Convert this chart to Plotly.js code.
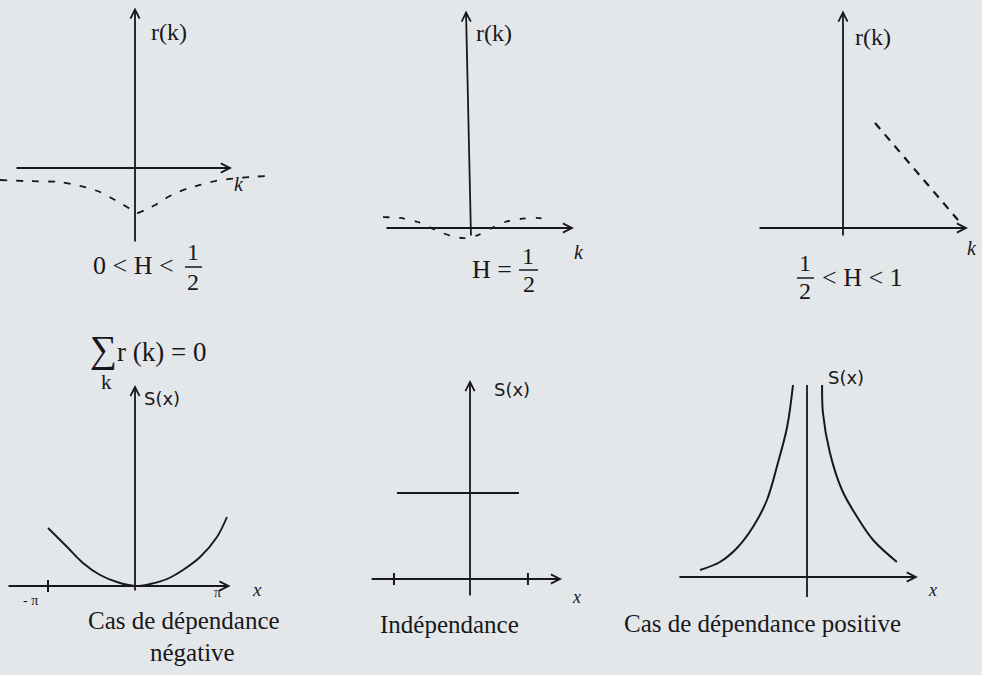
<!DOCTYPE html>
<html>
<head>
<meta charset="utf-8">
<script src="https://cdn.plot.ly/plotly-3.0.1.min.js"></script>
<style>
html,body{margin:0;padding:0;background:#e4e7ea;}
#chart{width:982px;height:675px;}
</style>
</head>
<body>
<div id="chart"></div>
<script>
// ---------- DATA ----------
// r(k), 0 < H < 1/2  (negative correlations)
const kNeg = [-6.75,-5.5,-3.75,-2.5,-1.75,-1,-0.4,0.1,0.5,1.1,1.65,2.4,3.25,4,4.75,5.75,6.65];
const rNeg = [-0.08,-0.087,-0.093,-0.127,-0.16,-0.213,-0.26,-0.3,-0.28,-0.24,-0.193,-0.147,-0.113,-0.087,-0.073,-0.06,-0.053];
// r(k), H = 1/2
const kInd = [-4.25,-3.4,-2.5,-1.4,-0.65,-0.15,0.5,1.2,1.85,2.6,3.45,4.1];
const rInd = [0.073,0.067,0.04,-0.027,-0.06,-0.067,-0.047,0,0.04,0.06,0.067,0.053];
// r(k), 1/2 < H < 1
const kPos = [1.6,3.6,5.75];
const rPos = [0.7,0.387,0.053];
// S(x), negative dependence
const xNeg = [-3.14,-2.45,-1.88,-1.26,-0.65,0,0.54,1.16,1.73,2.35,2.96,3.32];
const sNeg = [2.9,1.95,1.15,0.55,0.2,0,0.1,0.35,0.8,1.45,2.45,3.45];
// S(x), independence
const xInd = [-3.43,2.3];
const sInd = [4.3,4.3];
// S(x), positive dependence (two branches)
const xPosL = [-3.82,-3.11,-2.5,-1.93,-1.43,-1.04,-0.71,-0.5];
const sPosL = [0.35,0.75,1.45,2.5,3.85,5.7,7.5,9.6];
const xPosR = [0.54,0.57,0.82,1.25,1.79,2.36,3.21];
const sPosR = [9.6,8.2,6.2,4.35,3.0,1.85,0.75];
// tick marks / tick labels
const tickNeg = [-3.14];
const tickInd = [-3.57,2.72];
const tickLabelsNeg = ['- π','π'];
const captionsTop = ['0 < H <','H =','< H < 1'];
const captionsBottom = ['Cas de dépendance','négative','Indépendance','Cas de dépendance positive'];

// ---------- LAYOUT ----------
const W = 982, H = 675;
const INK = '#18181b';
const SERIF = '"Liberation Serif","Times New Roman",serif';
const HAND = '"DejaVu Sans",sans-serif';

// panel frames: pixel box [x0,x1,yTop,yBottom], origin pixel, px per unit
const panels = [
  {box:[0,280,0,250],   o:[135,168], s:[20,150]},
  {box:[370,600,0,250], o:[468,228], s:[20,150]},
  {box:[740,982,0,250], o:[843,228], s:[20,150]},
  {box:[0,280,370,605], o:[135,586], s:[27.7,20]},
  {box:[360,600,370,605], o:[470,579], s:[21.3,20]},
  {box:[640,982,365,605], o:[807,577], s:[28,20]}
];
// axis extents in data units
const axesDef = [
  {h:[-6,4.85],    v:[-0.5,1.07],  vx:[0,0]},
  {h:[-4.15,5.3],  v:[-0.06,1.45], vx:[0.15,-0.1]},
  {h:[-4.25,6.25], v:[-0.06,1.45], vx:[0,0]},
  {h:[-4.62,3.45], v:[-0.3,10.05], vx:[0,0]},
  {h:[-4.69,4.32], v:[-0.9,9.95],  vx:[0,0]},
  {h:[-4.61,3.96], v:[-1.0,9.6],   vx:[0,0], noVArrow:true}
];

const layout = {
  width: W, height: H,
  margin: {l:0,r:0,t:0,b:0,pad:0},
  paper_bgcolor: '#e4e7ea',
  plot_bgcolor: 'rgba(0,0,0,0)',
  showlegend: false,
  annotations: [],
  shapes: []
};

function sfx(i){ return i===0 ? '' : String(i+1); }
panels.forEach((p,i)=>{
  const s = sfx(i);
  layout['xaxis'+s] = {
    domain:[p.box[0]/W, p.box[1]/W],
    range:[(p.box[0]-p.o[0])/p.s[0], (p.box[1]-p.o[0])/p.s[0]],
    visible:false, fixedrange:true, anchor:'y'+s
  };
  layout['yaxis'+s] = {
    domain:[1-p.box[3]/H, 1-p.box[2]/H],
    range:[(p.o[1]-p.box[3])/p.s[1], (p.o[1]-p.box[2])/p.s[1]],
    visible:false, fixedrange:true, anchor:'x'+s
  };
  const a = axesDef[i];
  const xr = 'x'+s, yr = 'y'+s;
  // horizontal axis with arrow
  layout.annotations.push({xref:xr,yref:yr,axref:xr,ayref:yr,
    x:a.h[1], y:0, ax:a.h[0], ay:0, text:'', showarrow:true,
    arrowhead:5, arrowsize:1, arrowwidth:1.8, arrowcolor:INK});
  // vertical axis
  if (a.noVArrow) {
    layout.shapes.push({type:'line', xref:xr, yref:yr, x0:a.vx[0], x1:a.vx[1], y0:a.v[0], y1:a.v[1],
      line:{color:INK,width:1.8}});
  } else {
    layout.annotations.push({xref:xr,yref:yr,axref:xr,ayref:yr,
      x:a.vx[1], y:a.v[1], ax:a.vx[0], ay:a.v[0], text:'', showarrow:true,
      arrowhead:5, arrowsize:1, arrowwidth:1.8, arrowcolor:INK});
  }
});

// tick marks
tickNeg.forEach(t=>layout.shapes.push({type:'line',xref:'x4',yref:'y4',x0:t,x1:t,y0:-0.3,y1:0.3,line:{color:INK,width:2}}));
tickInd.forEach(t=>layout.shapes.push({type:'line',xref:'x5',yref:'y5',x0:t,x1:t,y0:-0.3,y1:0.3,line:{color:INK,width:2}}));

// ---------- TEXT ----------
function P(x,y){ return {x:x/W, y:1-y/H}; }
function txt(t,x,y,o){
  o = o||{};
  const p = P(x,y);
  return {xref:'paper',yref:'paper',x:p.x,y:p.y,text:t,showarrow:false,
    xanchor:o.xa||'center', yanchor:'middle', borderpad:0,
    font:{family:o.fam||SERIF, size:o.size||26, color:INK}};
}
function bar(x0,x1,y){
  const a=P(x0,y), b=P(x1,y);
  return {type:'line',xref:'paper',yref:'paper',x0:a.x,x1:b.x,y0:a.y,y1:b.y,line:{color:INK,width:1.5}};
}
const A = layout.annotations;
// top panels
A.push(txt('r(k)',169,32,{size:24}));
A.push(txt('r(k)',494,33,{size:24}));
A.push(txt('r(k)',873,37,{size:24}));
A.push(txt('<i>k</i>',239,184,{size:20}));
A.push(txt('<i>k</i>',579,252,{size:20}));
A.push(txt('<i>k</i>',972,248,{size:20}));
A.push(txt(captionsTop[0],133,266,{size:26}));
A.push(txt('1',193,252,{size:24}));
A.push(txt('2',193,282,{size:24}));
layout.shapes.push(bar(185,202,267));
A.push(txt(captionsTop[1],492,269,{size:26}));
A.push(txt('1',528,256,{size:24}));
A.push(txt('2',529,284,{size:24}));
layout.shapes.push(bar(519,538,270));
A.push(txt('1',805,263,{size:24}));
A.push(txt('2',805,291,{size:24}));
layout.shapes.push(bar(797,814,278));
A.push(txt(captionsTop[2],862,277,{size:26}));
// bottom panels
A.push(txt('∑',103,349,{size:38}));
A.push(txt('r (k) = 0',116,352,{size:27,xa:'left'}));
A.push(txt('k',106,382,{size:21}));
A.push(txt('S(x)',143,398,{size:18,fam:HAND,xa:'left'}));
A.push(txt('S(x)',493,390,{size:18,fam:HAND,xa:'left'}));
A.push(txt('S(x)',827,377,{size:18,fam:HAND,xa:'left'}));
A.push(txt('<i>x</i>',257,589,{size:19}));
A.push(txt('<i>x</i>',576,597,{size:18}));
A.push(txt('<i>x</i>',932,590,{size:18}));
A.push(txt(tickLabelsNeg[0],30,600,{size:14}));
A.push(txt(tickLabelsNeg[1],217,592,{size:14}));
A.push(txt(captionsBottom[0],184,620,{size:25}));
A.push(txt(captionsBottom[1],192,652,{size:25}));
A.push(txt(captionsBottom[2],449,624,{size:25}));
A.push(txt(captionsBottom[3],762,623,{size:25}));

// ---------- TRACES ----------
const traces = [
  {x:kNeg, y:rNeg, xaxis:'x', yaxis:'y', mode:'lines', line:{color:INK,width:1.8,dash:'7px,9px',shape:'spline',smoothing:0.4}},
  {x:kInd, y:rInd, xaxis:'x2', yaxis:'y2', mode:'lines', line:{color:INK,width:1.8,dash:'6px,10px',shape:'spline',smoothing:0.8}},
  {x:kPos, y:rPos, xaxis:'x3', yaxis:'y3', mode:'lines', line:{color:INK,width:2.2,dash:'8px,7px'}},
  {x:xNeg, y:sNeg, xaxis:'x4', yaxis:'y4', mode:'lines', line:{color:INK,width:1.9,shape:'spline',smoothing:1}},
  {x:xInd, y:sInd, xaxis:'x5', yaxis:'y5', mode:'lines', line:{color:INK,width:1.9}},
  {x:xPosL, y:sPosL, xaxis:'x6', yaxis:'y6', mode:'lines', line:{color:INK,width:2,shape:'spline',smoothing:1}},
  {x:xPosR, y:sPosR, xaxis:'x6', yaxis:'y6', mode:'lines', line:{color:INK,width:2,shape:'spline',smoothing:1}}
];
traces.forEach(t=>{t.hoverinfo='skip'; t.showlegend=false;});

Plotly.newPlot('chart', traces, layout, {displayModeBar:false, staticPlot:true});
</script>
</body>
</html>
